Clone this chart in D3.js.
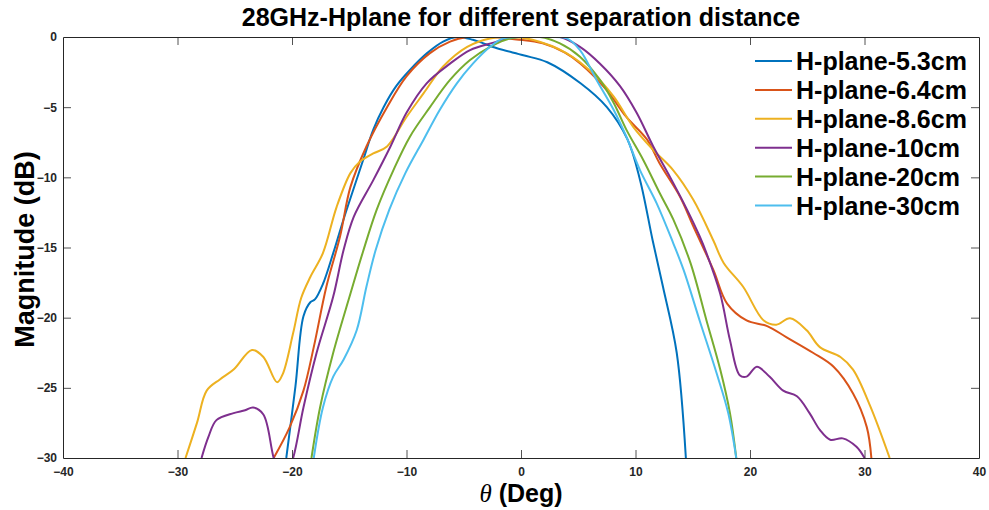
<!DOCTYPE html>
<html>
<head>
<meta charset="utf-8">
<script src="https://cdn.jsdelivr.net/npm/d3@7"></script>
<style>
  html, body { margin: 0; padding: 0; background: #fff; }
  svg { display: block; font-family: "Liberation Sans", Arial, Helvetica, sans-serif; }
</style>
</head>
<body>
<svg id="chart" width="989" height="510"></svg>
<script>
// ---- data ----
const title = "28GHz-Hplane for different separation distance";
const seriesNames = ["H-plane-5.3cm", "H-plane-6.4cm", "H-plane-8.6cm", "H-plane-10cm", "H-plane-20cm", "H-plane-30cm"];
const seriesColors = ["#0072BD", "#D95319", "#EDB120", "#7E2F8E", "#77AC30", "#4DBEEE"];
const xTicks = [-40, -30, -20, -10, 0, 10, 20, 30, 40];
const yTicks = [0, -5, -10, -15, -20, -25, -30];

const theta53 = [-20.5,-19.7,-19.0,-18.4,-18.0,-17.3,-16.4,-15.5,-13.8,-12.9,-12.0,-10.9,-9.7,-8.2,-6.8,-5.6,-4.2,-2.1,0.2,2.3,5.2,7.5,9.3,10.4,11.5,12.4,13.6,14.4];
const mag53   = [-30,-24.9,-19.9,-18.9,-18.7,-17.6,-15.4,-13.0,-8.8,-6.6,-5.0,-3.5,-2.35,-1.15,-0.33,0,-0.2,-0.8,-1.3,-1.8,-3.3,-5.0,-7.3,-10.2,-14.5,-17.8,-22.5,-30];

const theta64 = [-21.6,-20.2,-19.0,-18.1,-17.0,-15.8,-14.9,-13.5,-11.7,-10.0,-7.95,-6.2,-4.7,-2.7,-0.4,1.9,3.8,5.2,7.5,9.2,11.0,12.1,13.9,15.0,16.8,18.0,19.7,21.5,23.2,25.5,27.3,29.0,30.2,30.6];
const mag64   = [-30,-27.8,-25.2,-22.1,-17.8,-14.2,-10.7,-7.8,-5.0,-2.8,-1.15,-0.33,0,0,-0.17,-0.45,-1.1,-1.9,-3.8,-5.7,-7.3,-9.0,-11.4,-13.4,-16.6,-19.0,-20.2,-20.6,-21.4,-22.5,-23.5,-25.4,-27.8,-30];

const theta86 = [-29.3,-28.3,-27.45,-26.3,-25.1,-23.5,-22.5,-21.3,-20.8,-19.9,-19.2,-18.4,-17.3,-16.1,-14.9,-14.1,-12.9,-11.7,-10.0,-8.5,-6.8,-4.7,-2.7,-1.0,1.0,4.0,6.3,8.1,9.8,11.55,13.3,15.05,16.8,17.7,19.4,21.2,22.3,23.5,24.95,26.1,27.9,29.0,30.5,32.2];
const mag86   = [-30,-27.5,-25.2,-24.4,-23.7,-22.3,-22.8,-24.6,-24.0,-21.1,-18.6,-17.1,-15.4,-12.1,-9.7,-8.9,-8.3,-7.8,-5.7,-4.0,-2.1,-0.7,-0.1,0,-0.2,-1.16,-2.6,-4.25,-6.4,-8.05,-9.5,-11.6,-14.5,-16.1,-17.8,-20.2,-20.5,-20.05,-20.9,-22.1,-22.8,-23.7,-26.3,-30];

const theta10 = [-27.9,-27.3,-26.6,-25.1,-24.1,-23.4,-22.5,-21.6,-20.8,-19.9,-19.0,-17.85,-16.4,-15.5,-14.6,-12.9,-11.4,-10.0,-8.24,-6.2,-4.45,-2.4,-0.7,1.5,3.4,5.15,6.9,8.65,10.1,11.55,13.0,14.5,15.6,16.2,17.4,18.25,19.1,19.7,20.6,21.7,22.9,24.1,25.2,26.1,27.0,28.1,29.3,30.0];
const mag10   = [-30,-28.5,-27.3,-26.8,-26.6,-26.4,-26.9,-30,-32,-30,-26.4,-22.5,-18.5,-15.2,-12.8,-10.2,-7.8,-5.4,-3.3,-1.9,-0.93,-0.4,0,0,0,-0.7,-1.9,-3.5,-5.4,-7.8,-9.95,-12.3,-14.2,-15.4,-18.3,-21.6,-24.1,-24.2,-23.5,-24.2,-25.2,-25.6,-26.8,-28.0,-28.7,-28.6,-29.2,-30];

const theta20 = [-18.3,-17.55,-16.4,-14.9,-13.8,-12.6,-11.15,-9.7,-7.95,-6.2,-4.45,-2.7,-0.96,1.66,3.4,5.15,6.9,8.1,9.2,10.7,12.1,13.3,14.8,16.2,17.4,18.25,18.8];
const mag20   = [-30,-26.4,-22.5,-18.3,-15.3,-12.3,-9.5,-7.1,-5.0,-3.06,-1.64,-0.7,-0.1,0,-0.45,-1.4,-3.06,-4.7,-6.6,-8.8,-11.1,-13.0,-16.1,-20.2,-23.7,-26.8,-30];

const theta30 = [-18.1,-17.3,-16.4,-15.5,-14.35,-13.5,-12.7,-11.5,-10.1,-8.5,-7.1,-5.6,-4.2,-2.7,-1.55,0.5,2.2,4.0,5.15,6.6,8.1,9.2,10.4,11.85,13.3,14.2,15.6,17.1,18.1,18.8];
const mag30   = [-30,-26.4,-24.2,-23.0,-20.9,-17.8,-15.2,-12.3,-9.7,-7.3,-5.2,-3.3,-1.9,-0.7,-0.1,0,0,-0.1,-0.93,-3.06,-5.2,-7.1,-9.5,-11.85,-14.7,-16.6,-20.2,-24.0,-26.8,-30];

const thetaSets = [theta53, theta64, theta86, theta10, theta20, theta30];
const magSets = [mag53, mag64, mag86, mag10, mag20, mag30];

// ---- layout ----
const W = 989, H = 510;
const margin = { left: 63, top: 37, right: 10, bottom: 52 };
const iw = W - margin.left - margin.right;
const ih = H - margin.top - margin.bottom;
const axisColor = "#262626";

const svg = d3.select("#chart");
const x = d3.scaleLinear().domain([-40, 40]).range([0, iw]);
const y = d3.scaleLinear().domain([-30, 0]).range([ih, 0]);

const g = svg.append("g").attr("transform", `translate(${margin.left},${margin.top})`);

g.append("defs").append("clipPath").attr("id", "clip")
  .append("rect").attr("width", iw).attr("height", ih);

// curves
const line = d3.line()
  .x(d => x(d[0])).y(d => y(d[1]))
  .curve(d3.curveCatmullRom.alpha(0.5));

const curves = g.append("g").attr("clip-path", "url(#clip)");
thetaSets.forEach((th, i) => {
  const pts = th.map((t, k) => [t, magSets[i][k]]);
  curves.append("path")
    .datum(pts)
    .attr("d", line)
    .attr("fill", "none")
    .attr("stroke", seriesColors[i])
    .attr("stroke-width", 2)
    .attr("stroke-linejoin", "round");
});

// axes (inward ticks, box)
const tickLen = 8;
const axB = g.append("g").attr("transform", `translate(0,${ih})`)
  .call(d3.axisBottom(x).tickValues(xTicks).tickSizeInner(-tickLen).tickSizeOuter(0).tickPadding(9));
const axT = g.append("g")
  .call(d3.axisTop(x).tickValues(xTicks).tickSizeInner(-tickLen).tickSizeOuter(0).tickFormat(""));
const axL = g.append("g")
  .call(d3.axisLeft(y).tickValues(yTicks).tickSizeInner(-tickLen).tickSizeOuter(0).tickPadding(6));
const axR = g.append("g").attr("transform", `translate(${iw},0)`)
  .call(d3.axisRight(y).tickValues(yTicks).tickSizeInner(-tickLen).tickSizeOuter(0).tickFormat(""));

[axB, axT, axL, axR].forEach(a => {
  a.select(".domain").attr("stroke", axisColor).attr("stroke-width", 1);
  a.selectAll(".tick line").attr("stroke", axisColor).attr("stroke-width", 0.8);
  a.selectAll(".tick text")
    .attr("fill", axisColor)
    .style("font-family", '"Liberation Sans", Arial, sans-serif')
    .style("font-size", "12px")
    .style("font-weight", "bold");
});
axB.selectAll(".tick line").filter(d => d === -40 || d === 40).attr("opacity", 0);
axT.selectAll(".tick line").filter(d => d === -40 || d === 40).attr("opacity", 0);
axL.selectAll(".tick line").filter(d => d === 0 || d === -30).attr("opacity", 0);
axR.selectAll(".tick line").filter(d => d === 0 || d === -30).attr("opacity", 0);

// title
svg.append("text")
  .attr("x", margin.left + x(0)).attr("y", 26)
  .attr("text-anchor", "middle")
  .style("font-size", "25px").style("font-weight", "bold")
  .attr("fill", "#000")
  .text(title);

// y label
svg.append("text")
  .attr("transform", `translate(34,${margin.top + ih / 2 + 2}) rotate(-90)`)
  .attr("text-anchor", "middle")
  .style("font-size", "27px").style("font-weight", "bold")
  .attr("fill", "#000")
  .text("Magnitude (dB)");

// x label
const xl = svg.append("text")
  .attr("x", margin.left + x(0)).attr("y", 502)
  .attr("text-anchor", "middle")
  .style("font-size", "25px").style("font-weight", "bold")
  .attr("fill", "#000");
xl.append("tspan").style("font-style", "italic").style("font-weight", "normal")
  .style("font-family", '"Liberation Serif", "DejaVu Serif", serif').text("θ");
xl.append("tspan").text(" (Deg)");

// legend
const legend = svg.append("g").attr("transform", "translate(755,61)");
legend.append("rect").attr("x", -6).attr("y", -15).attr("width", 218).attr("height", 172).attr("fill", "#fff");
seriesNames.forEach((name, i) => {
  const row = legend.append("g").attr("transform", `translate(0,${i * 28.9})`);
  row.append("line").attr("x1", 0).attr("x2", 37).attr("y1", 0).attr("y2", 0)
    .attr("stroke", seriesColors[i]).attr("stroke-width", 2);
  row.append("text").attr("x", 41).attr("y", 9)
    .style("font-size", "25px").style("font-weight", "bold").attr("fill", "#000")
    .text(name);
});
</script>
</body>
</html>
